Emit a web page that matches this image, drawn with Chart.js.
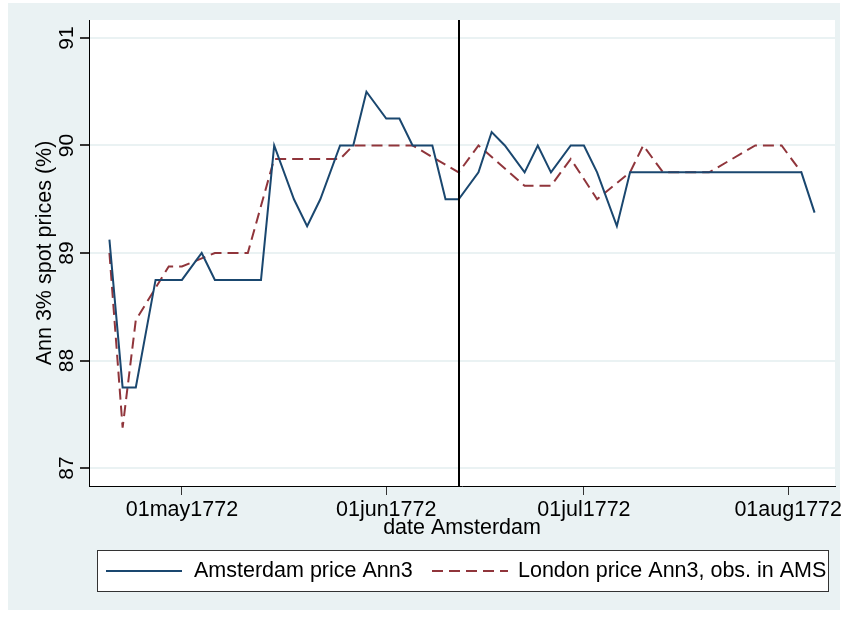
<!DOCTYPE html>
<html>
<head>
<meta charset="utf-8">
<script src="https://cdn.jsdelivr.net/npm/chart.js@4"></script>
<style>
  html, body { margin: 0; padding: 0; background: #fff; }
</style>
</head>
<body>
<canvas id="chart" width="846" height="617"></canvas>
<script>
// observation dates (Amsterdam, Mon/Wed/Fri)
const dates = ['20apr1772', '22apr1772', '24apr1772', '27apr1772', '29apr1772', '01may1772',
  '04may1772', '06may1772', '08may1772', '11may1772', '13may1772', '15may1772',
  '18may1772', '20may1772', '22may1772', '25may1772', '27may1772', '29may1772',
  '01jun1772', '03jun1772', '05jun1772', '08jun1772', '10jun1772', '12jun1772',
  '15jun1772', '17jun1772', '19jun1772', '22jun1772', '24jun1772', '26jun1772',
  '29jun1772', '01jul1772', '03jul1772', '06jul1772', '08jul1772', '10jul1772',
  '13jul1772', '15jul1772', '17jul1772', '20jul1772', '22jul1772', '24jul1772',
  '27jul1772', '29jul1772', '31jul1772', '03aug1772', '05aug1772'];

const amsterdam = [89.125, 87.75, 87.75, 88.75, 88.75, 88.75,
  89.0, 88.75, 88.75, 88.75, 88.75, 90.0,
  89.5, 89.25, 89.5, 90.0, 90.0, 90.5,
  90.25, 90.25, 90.0, 90.0, 89.5, 89.5,
  89.75, 90.125, 90.0, 89.75, 90.0, 89.75,
  90.0, 90.0, 89.75, 89.25, 89.75, 89.75,
  89.75, 89.75, 89.75, 89.75, 89.75, 89.75,
  89.75, 89.75, 89.75, 89.75, 89.375];

const london = [89.0, 87.375, 88.375, null, 88.875, 88.875,
  null, 89.0, 89.0, 89.0, null, 89.875,
  89.875, 89.875, 89.875, 89.875, 90.0, 90.0,
  90.0, 90.0, 90.0, null, null, 89.75,
  90.0, null, null, 89.625, 89.625, 89.625,
  89.875, null, 89.5, null, 89.75, 90.0,
  89.75, 89.75, 89.75, 89.75, null, null,
  90.0, 90.0, 90.0, 89.75, null];

const tickDates = ['01may1772', '01jun1772', '01jul1772', '01aug1772'];
const yTicks = [87, 88, 89, 90, 91];
const breakDate = '12jun1772';

const seriesNames = ['Amsterdam price Ann3', 'London price Ann3, obs. in AMS'];
const seriesColors = ['#1a476f', '#90353b'];

const months = { jan: 0, feb: 1, mar: 2, apr: 3, may: 4, jun: 5, jul: 6, aug: 7, sep: 8, oct: 9, nov: 10, dec: 11 };
// days counted from 01may1772
function dayNum(s) {
  const d = +s.slice(0, 2), m = months[s.slice(2, 5)], y = +s.slice(5);
  return Math.round((Date.UTC(y, m, d) - Date.UTC(1772, 4, 1)) / 864e5);
}
const tickDays = tickDates.map(dayNum);

const FONT = "'Liberation Sans', Arial, sans-serif";

const stataLook = {
  id: 'stataLook',
  beforeDraw(chart) {
    const { ctx, chartArea: a } = chart;
    ctx.save();
    ctx.fillStyle = '#fff';
    ctx.fillRect(0, 0, chart.width, chart.height);
    ctx.fillStyle = '#eaf2f3';
    ctx.fillRect(8, 3, 832, 607);
    ctx.fillStyle = '#fff';
    ctx.fillRect(a.left, a.top, a.right - a.left, a.bottom - a.top);
    ctx.restore();
  },
  afterDatasetsDraw(chart) {
    const { ctx, chartArea: a } = chart;
    const x = Math.round(chart.scales.x.getPixelForValue(dayNum(breakDate)));
    ctx.save();
    ctx.strokeStyle = '#000';
    ctx.lineWidth = 2;
    ctx.beginPath();
    ctx.moveTo(x, a.top);
    ctx.lineTo(x, a.bottom);
    ctx.stroke();
    ctx.restore();
  },
  afterDraw(chart) {
    const { ctx } = chart;
    const ys = chart.scales.y;
    ctx.save();
    // y tick labels, rotated like Stata
    ctx.fillStyle = '#000';
    ctx.font = '21px ' + FONT;
    ctx.textAlign = 'center';
    ctx.textBaseline = 'middle';
    yTicks.forEach(v => {
      ctx.save();
      ctx.translate(67, ys.getPixelForValue(v));
      ctx.rotate(-Math.PI / 2);
      ctx.fillText(String(v), 0, 0);
      ctx.restore();
    });

    // legend box
    ctx.fillStyle = '#fff';
    ctx.fillRect(97, 550, 731, 41);
    ctx.strokeStyle = '#333';
    ctx.lineWidth = 1;
    ctx.strokeRect(97.5, 550.5, 731, 41);

    const ly = 571;
    const items = [[106, 182, 194], [432, 508, 518]];
    ctx.font = '21.5px ' + FONT;
    ctx.textAlign = 'left';
    items.forEach((it, i) => {
      ctx.strokeStyle = seriesColors[i];
      ctx.lineWidth = 2;
      ctx.setLineDash(i === 1 ? [11, 6] : []);
      ctx.beginPath();
      ctx.moveTo(it[0], ly);
      ctx.lineTo(it[1], ly);
      ctx.stroke();
      ctx.setLineDash([]);
      ctx.fillStyle = '#000';
      ctx.fillText(seriesNames[i], it[2], ly);
    });
    ctx.restore();
  }
};

new Chart(document.getElementById('chart'), {
  type: 'line',
  data: {
    datasets: [{
      label: seriesNames[0],
      data: dates.map((d, i) => ({ x: dayNum(d), y: amsterdam[i] })),
      borderColor: seriesColors[0],
      borderWidth: 2,
      pointRadius: 0,
      tension: 0,
      spanGaps: true
    }, {
      label: seriesNames[1],
      data: dates.map((d, i) => ({ x: dayNum(d), y: london[i] })),
      borderColor: seriesColors[1],
      borderWidth: 2,
      borderDash: [11, 6],
      pointRadius: 0,
      tension: 0,
      spanGaps: true
    }]
  },
  options: {
    responsive: false,
    animation: false,
    devicePixelRatio: 1,
    layout: { padding: { left: 0, top: 20, right: 11, bottom: 76 } },
    plugins: {
      legend: { display: false },
      tooltip: { enabled: false }
    },
    scales: {
      x: {
        type: 'linear',
        min: -14.1,
        max: 99.1,
        afterBuildTicks: s => { s.ticks = tickDays.map(v => ({ value: v })); },
        afterFit: s => { s.height = 55; },
        ticks: {
          autoSkip: false,
          maxRotation: 0,
          padding: 2,
          color: '#000',
          font: { family: FONT, size: 21.5 },
          callback: v => tickDates[tickDays.indexOf(v)]
        },
        grid: { drawOnChartArea: false, tickLength: 9, tickColor: '#333', lineWidth: 1 },
        border: { color: '#000', width: 1 },
        title: {
          display: true,
          text: 'date Amsterdam',
          color: '#000',
          font: { family: FONT, size: 21.5 },
          padding: { top: 0, bottom: 0 }
        }
      },
      y: {
        min: 86.833,
        max: 91.167,
        afterBuildTicks: s => { s.ticks = yTicks.map(v => ({ value: v })); },
        afterFit: s => { s.width = 89; },
        ticks: { display: false },
        grid: { color: '#eaf2f3', lineWidth: 2, tickLength: 9, tickColor: '#333' },
        border: { color: '#000', width: 1 },
        title: {
          display: true,
          text: 'Ann 3% spot prices (%)',
          color: '#000',
          font: { family: FONT, size: 21.5 },
          padding: { top: 32, bottom: 0 }
        }
      }
    }
  },
  plugins: [stataLook]
});
</script>
</body>
</html>
